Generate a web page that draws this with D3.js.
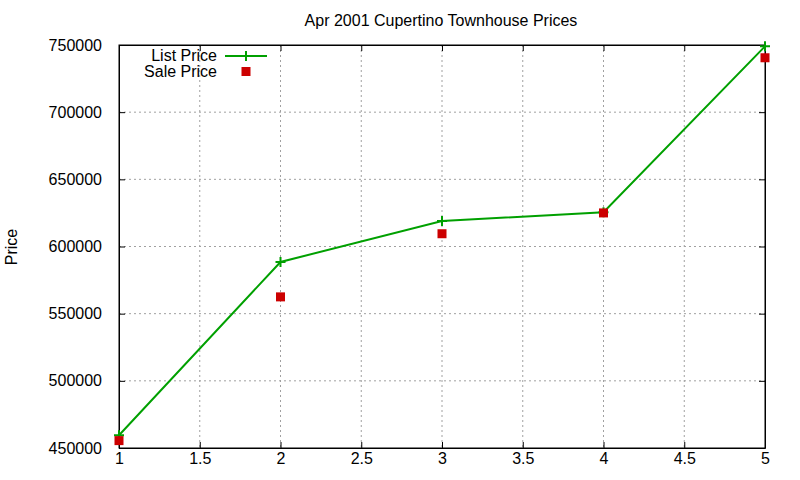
<!DOCTYPE html>
<html>
<head>
<meta charset="utf-8">
<script src="https://cdn.jsdelivr.net/npm/d3@7"></script>
<style>
body { margin: 0; background: #fff; }
text { font-family: "Liberation Sans", Arial, sans-serif; font-size: 16px; fill: #000; }
</style>
</head>
<body>
<div id="chart"></div>
<script>
var w = 800,
	h = 480;

var xs = [1, 2, 3, 4, 5];
var listPrice = [459500, 588500, 619000, 625500, 749000];
var salePrice = [455500, 562500, 609500, 625000, 740500];
var xTicks = [1, 1.5, 2, 2.5, 3, 3.5, 4, 4.5, 5];
var yTicks = [450000, 500000, 550000, 600000, 650000, 700000, 750000];

var pLeft = 119, pRight = 765, pTop = 45, pBottom = 448;

var root = d3.select("#chart").append("svg").attr("width", w).attr("height", h);

var x = d3.scaleLinear().domain([1, 5]).range([pLeft, pRight]);
var y = d3.scaleLinear().domain([450000, 750000]).range([pBottom, pTop]);

// grid
root.append("g").selectAll("line").data(xTicks.slice(1, -1)).enter().append("line")
	.attr("x1", d => x(d)).attr("x2", d => x(d)).attr("y1", pTop).attr("y2", pBottom)
	.style("stroke", "#a0a0a0").style("stroke-dasharray", "2,3");
root.append("g").selectAll("line").data(yTicks.slice(1, -1)).enter().append("line")
	.attr("x1", pLeft).attr("x2", pRight).attr("y1", d => y(d)).attr("y2", d => y(d))
	.style("stroke", "#a0a0a0").style("stroke-dasharray", "2,3");

// axes with inward ticks, mirrored
var axB = root.append("g").attr("transform", "translate(0," + pBottom + ")")
	.call(d3.axisBottom(x).tickValues(xTicks).tickSizeInner(-6).tickSizeOuter(0).tickPadding(10).tickFormat(d3.format("")));
var axT = root.append("g").attr("transform", "translate(0," + pTop + ")")
	.call(d3.axisTop(x).tickValues(xTicks).tickSizeInner(-6).tickSizeOuter(0).tickFormat(""));
var axL = root.append("g").attr("transform", "translate(" + pLeft + ",0)")
	.call(d3.axisLeft(y).tickValues(yTicks).tickSizeInner(-6).tickSizeOuter(0).tickPadding(17).tickFormat(d3.format("d")));
var axR = root.append("g").attr("transform", "translate(" + pRight + ",0)")
	.call(d3.axisRight(y).tickValues(yTicks).tickSizeInner(-6).tickSizeOuter(0).tickFormat(""));
[axB, axT, axL, axR].forEach(function(a) {
	a.selectAll("path,line").style("stroke", "#000");
	a.selectAll("text").style("font-size", "16px").style("font-family", "Liberation Sans, Arial, sans-serif");
});
axB.selectAll("text").attr("dy", "0.35em");

root.append("rect").attr("x", pLeft).attr("y", pTop).attr("width", pRight - pLeft).attr("height", pBottom - pTop)
	.style("fill", "none").style("stroke", "#000");

// list price line
var line = d3.line().x((d, i) => x(xs[i])).y(d => y(d));
root.append("path").datum(listPrice).attr("d", line)
	.style("fill", "none").style("stroke", "#00a000").style("stroke-width", 2);

function plus(g, cx, cy) {
	g.append("path").attr("d", "M" + (cx - 5) + "," + cy + "h10M" + cx + "," + (cy - 5) + "v10")
		.style("stroke", "#00a000").style("stroke-width", 2);
}
listPrice.forEach(function(d, i) { plus(root, x(xs[i]), y(d)); });

// sale price squares
root.append("g").selectAll("rect").data(salePrice).enter().append("rect")
	.attr("x", (d, i) => x(xs[i]) - 4.5).attr("y", d => y(d) - 4.5)
	.attr("width", 9).attr("height", 9).style("fill", "#cc0000");

// legend
root.append("text").attr("x", 217).attr("y", 61).attr("text-anchor", "end").text("List Price");
root.append("line").attr("x1", 225).attr("x2", 267).attr("y1", 56).attr("y2", 56)
	.style("stroke", "#00a000").style("stroke-width", 2);
plus(root, 246, 56);
root.append("text").attr("x", 217).attr("y", 77).attr("text-anchor", "end").text("Sale Price");
root.append("rect").attr("x", 241.5).attr("y", 67).attr("width", 9).attr("height", 9).style("fill", "#cc0000");

// titles
root.append("text").attr("x", 441).attr("y", 26).attr("text-anchor", "middle").text("Apr 2001 Cupertino Townhouse Prices");
root.append("text").attr("transform", "translate(17,247) rotate(-90)").attr("text-anchor", "middle").text("Price");
</script>
</body>
</html>
